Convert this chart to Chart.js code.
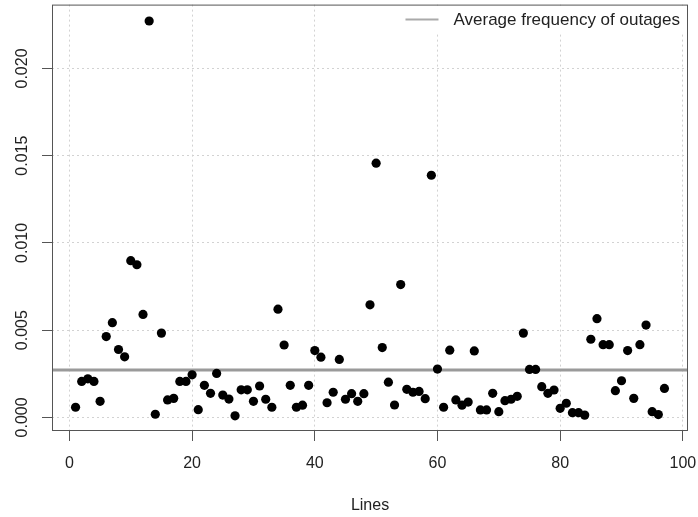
<!DOCTYPE html>
<html>
<head>
<meta charset="utf-8">
<title>Frequency of outages by line</title>
<script src="https://cdn.jsdelivr.net/npm/chart.js@4.4.1/dist/chart.umd.min.js"></script>
<style>
  html, body { margin: 0; padding: 0; background: #fff; }
  #wrap { width: 698px; height: 517px; }
</style>
</head>
<body>
<div id="wrap"><canvas id="outages" width="698" height="517"></canvas></div>
<script>
const xTicks = [0, 20, 40, 60, 80, 100];
const yTicks = [0, 0.005, 0.010, 0.015, 0.020];
const yTickLabels = ["0.000", "0.005", "0.010", "0.015", "0.020"];

// outage frequency for each line, lines numbered 1..97
const outageFreq = [
  0.00058, 0.00206, 0.00221, 0.00206, 0.00092, 0.00463, 0.00543, 0.00389, 0.00347, 0.00898,
  0.00875, 0.00590, 0.02272, 0.00018, 0.00483, 0.00100, 0.00109, 0.00206, 0.00206, 0.00244,
  0.00044, 0.00184, 0.00138, 0.00252, 0.00128, 0.00105, 0.00009, 0.00158, 0.00158, 0.00092,
  0.00180, 0.00104, 0.00058, 0.00620, 0.00415, 0.00184, 0.00058, 0.00070, 0.00184, 0.00383,
  0.00345, 0.00084, 0.00144, 0.00332, 0.00104, 0.00136, 0.00092, 0.00136, 0.00645, 0.01457,
  0.00400, 0.00202, 0.00071, 0.00761, 0.00161, 0.00144, 0.00149, 0.00107, 0.01388, 0.00277,
  0.00058, 0.00385, 0.00100, 0.00070, 0.00088, 0.00381, 0.00043, 0.00043, 0.00138, 0.00033,
  0.00096, 0.00104, 0.00121, 0.00483, 0.00275, 0.00275, 0.00176, 0.00138, 0.00157, 0.00052,
  0.00081, 0.00027, 0.00027, 0.00013, 0.00448, 0.00566, 0.00417, 0.00417, 0.00153, 0.00210,
  0.00383, 0.00109, 0.00417, 0.00529, 0.00033, 0.00016, 0.00166
];
const lineNumbers = outageFreq.map((v, i) => i + 1);
const avgFreq = outageFreq.reduce((s, v) => s + v, 0) / outageFreq.length;

const legendLabel = "Average frequency of outages";
const xTitle = "Lines";

// R-style range: data range padded by 4% on each side
const xMin = -2.84, xMax = 100.84;
const yMin = -0.00078, yMax = 0.02366;

const FONT = '"Liberation Sans", Arial, Helvetica, sans-serif';
const TEXT = "#222";
const FRAME = "#555";

Chart.defaults.font.family = FONT;
Chart.defaults.color = TEXT;

// box, rotated y labels, x labels and the top-right legend
const rFrame = {
  id: "rFrame",
  beforeDatasetsDraw(chart) {
    const { ctx, chartArea: a } = chart;
    ctx.save();
    ctx.font = "17px " + FONT;
    const tw = ctx.measureText(legendLabel).width;
    const tx = a.right - 8 - tw;
    ctx.fillStyle = "#fff";
    ctx.fillRect(tx - 56, a.top + 1, a.right - (tx - 56) - 1, 28);
    ctx.strokeStyle = "#aaa";
    ctx.lineWidth = 2;
    ctx.beginPath();
    ctx.moveTo(tx - 48, a.top + 15);
    ctx.lineTo(tx - 15, a.top + 15);
    ctx.stroke();
    ctx.fillStyle = TEXT;
    ctx.textAlign = "left";
    ctx.textBaseline = "middle";
    ctx.fillText(legendLabel, tx, a.top + 16);
    ctx.restore();
  },
  afterDraw(chart) {
    const { ctx, chartArea: a, scales: { x, y } } = chart;
    ctx.save();
    ctx.strokeStyle = FRAME;
    ctx.lineWidth = 1;
    ctx.strokeRect(a.left + 0.5, a.top + 0.5, a.right - a.left - 1, a.bottom - a.top - 1);

    ctx.fillStyle = TEXT;
    ctx.font = "16px " + FONT;
    ctx.textAlign = "center";
    ctx.textBaseline = "middle";
    xTicks.forEach((v) => {
      ctx.fillText(String(v), x.getPixelForValue(v), a.bottom + 33);
    });
    yTicks.forEach((v, i) => {
      ctx.save();
      ctx.translate(22.5, y.getPixelForValue(v));
      ctx.rotate(-Math.PI / 2);
      ctx.fillText(yTickLabels[i], 0, 0);
      ctx.restore();
    });
    ctx.restore();
  },
};

const gridOpts = {
  color: "#d2d2d2",
  lineWidth: 1,
  drawTicks: true,
  tickLength: 10,
  tickColor: FRAME,
  tickWidth: 1,
  tickBorderDash: [],
};

new Chart(document.getElementById("outages"), {
  type: "scatter",
  data: {
    datasets: [
      {
        label: "Outage frequency",
        data: lineNumbers.map((n, i) => ({ x: n, y: outageFreq[i] })),
        backgroundColor: "#000",
        borderWidth: 0,
        pointRadius: 4.6,
        pointHoverRadius: 4.6,
      },
      {
        type: "line",
        label: legendLabel,
        data: [{ x: xMin, y: avgFreq }, { x: xMax, y: avgFreq }],
        borderColor: "#9a9a9a",
        borderWidth: 3,
        pointRadius: 0,
        fill: false,
      },
    ],
  },
  options: {
    responsive: false,
    animation: false,
    events: [],
    layout: { padding: { left: 0, top: 2, right: 10, bottom: 0 } },
    plugins: {
      legend: { display: false },
      tooltip: { enabled: false },
    },
    scales: {
      x: {
        type: "linear",
        min: xMin,
        max: xMax,
        afterBuildTicks: (scale) => {
          scale.ticks = xTicks.map((v) => ({ value: v }));
        },
        afterFit: (scale) => {
          scale.height = 86;
        },
        ticks: { display: false },
        grid: gridOpts,
        border: { display: false, dash: [2, 3] },
        title: {
          display: true,
          text: xTitle,
          font: { size: 16 },
          color: TEXT,
          padding: { top: 0, bottom: 2 },
        },
      },
      y: {
        type: "linear",
        min: yMin,
        max: yMax,
        afterBuildTicks: (scale) => {
          scale.ticks = yTicks.map((v) => ({ value: v }));
        },
        afterFit: (scale) => {
          scale.width = 52;
        },
        ticks: { display: false },
        grid: gridOpts,
        border: { display: false, dash: [2, 3] },
      },
    },
  },
  plugins: [rFrame],
});
</script>
</body>
</html>
